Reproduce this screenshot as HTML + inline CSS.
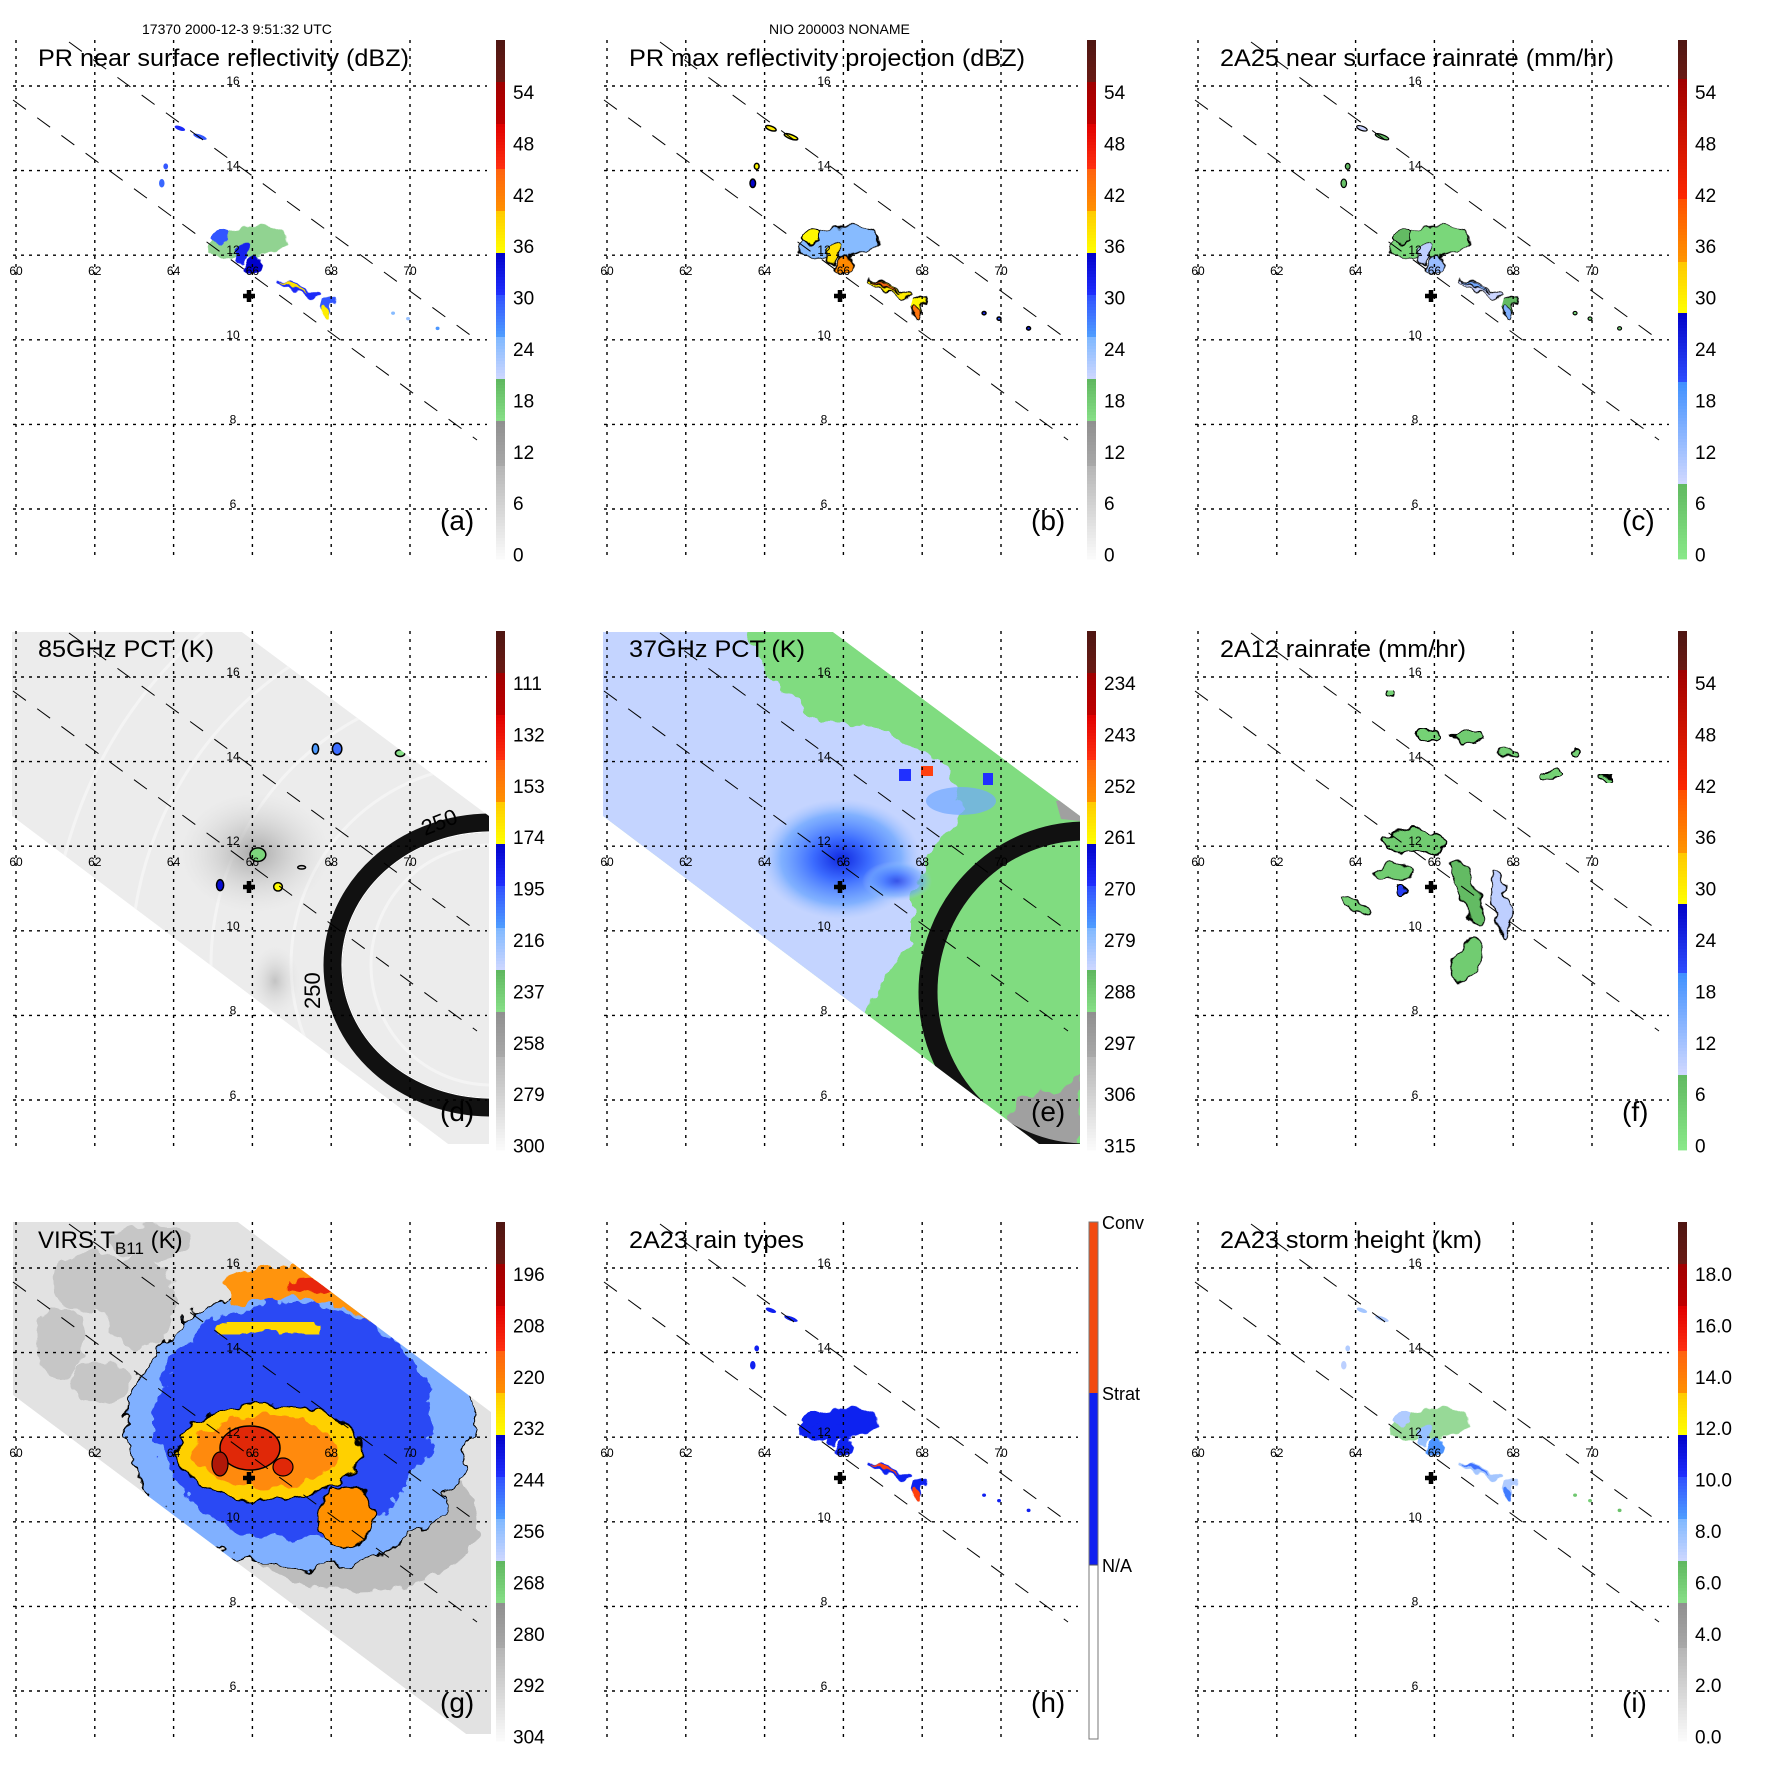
<!DOCTYPE html>
<html><head><meta charset="utf-8"><title>TRMM overpass panels</title>
<style>
html,body{margin:0;padding:0;background:#fff;}
svg{display:block;font-family:"Liberation Sans",Arial,sans-serif;}
</style></head>
<body>
<svg id="fig" width="1771" height="1771" viewBox="0 0 1771 1771" xmlns="http://www.w3.org/2000/svg">
<defs>
<filter id="rag" x="-30%" y="-30%" width="160%" height="160%">
<feTurbulence type="fractalNoise" baseFrequency="0.07" numOctaves="2" seed="4" result="n"/>
<feDisplacementMap in="SourceGraphic" in2="n" scale="16" xChannelSelector="R" yChannelSelector="G"/>
</filter>
<filter id="rag2" x="-30%" y="-30%" width="160%" height="160%">
<feTurbulence type="fractalNoise" baseFrequency="0.05" numOctaves="3" seed="9" result="n"/>
<feDisplacementMap in="SourceGraphic" in2="n" scale="26" xChannelSelector="R" yChannelSelector="G"/>
</filter>
<radialGradient id="dsmudge"><stop offset="0" stop-color="#a0a0a0" stop-opacity="0.9"/><stop offset="1" stop-color="#d8d8d8" stop-opacity="0"/></radialGradient>
<radialGradient id="espot"><stop offset="0" stop-color="#1028e0"/><stop offset="0.35" stop-color="#3c6cff"/><stop offset="0.75" stop-color="#70a8ff" stop-opacity="0.8"/><stop offset="1" stop-color="#a0c0ff" stop-opacity="0"/></radialGradient>
</defs>
<text x="142" y="34" font-size="14">17370 2000-12-3 9:51:32 UTC</text>
<text x="769" y="34" font-size="14">NIO 200003 NONAME</text>
<g id="panels"></g>
</svg>
<script>
// ---- axis / label data ----
const lonTicks=[60,62,64,66,68,70];
const latTicks=[16,14,12,10,8,6];
const cbA=['54','48','42','36','30','24','18','12','6','0'];
const cbD=['111','132','153','174','195','216','237','258','279','300'];
const cbE=['234','243','252','261','270','279','288','297','306','315'];
const cbG=['196','208','220','232','244','256','268','280','292','304'];
const cbI=['18.0','16.0','14.0','12.0','10.0','8.0','6.0','4.0','2.0','0.0'];
const cbH=['Conv','Strat','N/A'];
// PR rain features: lon, lat, rx(deg), ry(deg), rotation, value(dBZ)
const prLon=[65.86,65.2,65.76,66.0,67.15,67.1,67.9,67.85,64.16,64.67,63.7,63.8,69.57,69.95,70.7];
const prLat=[12.3,12.45,12.05,11.75,11.2,11.25,10.75,10.6,15.0,14.8,13.7,14.1,10.63,10.5,10.27];
const prRx=[1.0,0.25,0.2,0.18,0.6,0.35,0.12,0.1,0.14,0.18,0.07,0.06,0.05,0.05,0.05];
const prRy=[0.35,0.15,0.3,0.25,0.09,0.04,0.35,0.2,0.05,0.05,0.1,0.07,0.04,0.04,0.04];
const prRot=[-8,0,35,35,22,22,15,15,20,20,0,0,0,0,0];
const prVal=[19,30,32,35,31,38,30,37,31,30,29,30,25,24,26];
// 2A12 features
const tmLon=[64.86,65.86,66.86,67.86,69.0,69.57,70.37,65.5,65.0,64.0,66.85,67.7,66.85,65.2];
const tmLat=[15.55,14.6,14.6,14.2,13.7,14.2,13.6,12.1,11.4,10.6,10.9,10.6,9.3,10.95];
const tmRx=[0.12,0.3,0.4,0.25,0.3,0.1,0.2,0.75,0.5,0.4,0.22,0.22,0.3,0.12];
const tmRy=[0.08,0.12,0.14,0.1,0.1,0.12,0.06,0.3,0.2,0.12,0.8,0.8,0.55,0.15];
const tmRot=[0,0,0,20,0,0,0,0,-10,30,-20,-10,30,0];
const tmVal=[4,4,5,4,4,4,4,5,5,4,8,10,5,22];
// 85 GHz scattering features
const pLon=[66.14,65.18,66.65,68.15,67.6,69.75,67.25];
const pLat=[11.8,11.08,11.04,14.3,14.3,14.2,11.5];
const pRx=[0.2,0.09,0.11,0.12,0.08,0.12,0.1];
const pRy=[0.16,0.13,0.1,0.14,0.12,0.08,0.04];
const pVal=[240,180,175,200,210,245,280];

const SW=517;
const bandsA=[[0,43,'#4e1612','#6a1a14'],[43,85,'#a00000','#c00000'],[85,128,'#e00000','#ff3010'],[128,170,'#ff6010','#ff9000'],[170,212,'#ffc800','#ffff00'],[212,255,'#0000c8','#2030ff'],[255,298,'#3050ff','#50a0ff'],[298,340,'#80b8ff','#d0d8ff'],[340,382,'#60b860','#88e088'],[382,425,'#909090','#a8a8a8'],[425,517,'#b4b4b4','#fafafa']];
const bandsC=[[0,40,'#4e1612','#6a1a14'],[40,160,'#a00000','#ff2800'],[160,223,'#ff5000','#ff9800'],[223,272,'#ffc800','#ffff00'],[272,343,'#0000c8','#3050ff'],[343,443,'#4090ff','#d0d8ff'],[443,517,'#60b860','#88e888']];
function hx(c){return [parseInt(c.substr(1,2),16),parseInt(c.substr(3,2),16),parseInt(c.substr(5,2),16)];}
function colorAt(bands,pos){pos=Math.max(0,Math.min(516.9,pos));for(const b of bands){if(pos>=b[0]&&pos<b[1]){const t=(pos-b[0])/(b[1]-b[0]);const a=hx(b[2]),c=hx(b[3]);return 'rgb('+a.map((v,i)=>Math.round(v+(c[i]-v)*t)).join(',')+')';}}return '#fff';}
function valColor(bands,top,bottom,v){return colorAt(bands,SW*(v-top)/(bottom-top));}

const X=lon=>16+(lon-60)*39.4;
const Y=lat=>86+(16-lat)*42.3;
const NS='http://www.w3.org/2000/svg';
function el(tag,attrs,parent){const e=document.createElementNS(NS,tag);for(const k in attrs)e.setAttribute(k,attrs[k]);if(parent)parent.appendChild(e);return e;}

const swathMW='12,41 242,41 489,225 489,553 448,553 12,225';
const swathVIRS='13,40 238,40 491,230 491,552 466,552 13,213';

const panels=[
 {id:'a',col:0,row:0,title:'PR near surface reflectivity (dBZ)',tl:371,cb:cbA,bands:bandsA},
 {id:'b',col:1,row:0,title:'PR max reflectivity projection (dBZ)',tl:396,cb:cbA,bands:bandsA},
 {id:'c',col:2,row:0,title:'2A25 near surface rainrate (mm/hr)',tl:394,cb:cbA,bands:bandsC},
 {id:'d',col:0,row:1,title:'85GHz PCT (K)',tl:176,cb:cbD,bands:bandsA},
 {id:'e',col:1,row:1,title:'37GHz PCT (K)',tl:176,cb:cbE,bands:bandsA},
 {id:'f',col:2,row:1,title:'2A12 rainrate (mm/hr)',tl:246,cb:cbA,bands:bandsC},
 {id:'g',col:0,row:2,title:'VIRS',tl:0,cb:cbG,bands:bandsA},
 {id:'h',col:1,row:2,title:'2A23 rain types',tl:175,cb:null,bands:null},
 {id:'i',col:2,row:2,title:'2A23 storm height (km)',tl:262,cb:cbI,bands:bandsA}
];

const root=document.getElementById('panels');
panels.forEach(p=>{
 const g=el('g',{transform:'translate('+(p.col*591)+','+(p.row*591)+')'},root);
 
 
 const clip=el('clipPath',{id:'clip-'+p.id},g);
 if(p.id==='g') el('polygon',{points:swathVIRS},clip); else if(p.id==='d'||p.id==='e') el('polygon',{points:swathMW},clip); else el('rect',{x:13,y:40,width:476,height:517},clip);
 const data=el('g',{'clip-path':'url(#clip-'+p.id+')'},g);
 
 

 if(p.id==='d'){
  const sw=el('polygon',{points:swathMW,fill:'#ececec'},data);
  
  
  [120,200,280,360,440].forEach(r=>el('circle',{cx:491,cy:374,r:r,fill:'none',stroke:'#f4f4f4','stroke-width':3},data));
  el('ellipse',{cx:255,cy:262,rx:75,ry:60,fill:'url(#dsmudge)'},data);
  el('ellipse',{cx:275,cy:390,rx:25,ry:35,fill:'url(#dsmudge)',opacity:0.6},data);
  el('ellipse',{cx:491,cy:374,rx:158,ry:142,fill:'none',stroke:'#111','stroke-width':19},data);
  el('ellipse',{cx:491,cy:374,rx:149,ry:133,fill:'none',stroke:'#fff','stroke-width':1.2},data);
  pLon.forEach((lon,i)=>{
   const e=el('ellipse',{cx:X(lon),cy:Y(pLat[i]),rx:pRx[i]*39.4,ry:pRy[i]*42.3,fill:valColor(bandsA,90,300,pVal[i]),stroke:'#000','stroke-width':1.5},data);
   
   
  });
  const t1=el('text',{x:0,y:0,'font-size':22,transform:'translate(320,418) rotate(-90)'},g);
  t1.textContent='250';
  
  
  const t2=el('text',{x:0,y:0,'font-size':22,transform:'translate(425,245) rotate(-22)'},g);
  t2.textContent='250';
  
  
 }
 if(p.id==='e'){
  const sw=el('polygon',{points:swathMW,fill:'#80dc80'},data);
  
  
  const lb=el('polygon',{points:'0,30 149,30 179,85 224,129 291,137 358,177 373,217 336,265 321,309 321,353 291,389 276,430 0,260',fill:'#c4d4ff',filter:'url(#rag)'},data);
  
  
  el('ellipse',{cx:250,cy:268,rx:80,ry:60,fill:'url(#espot)'},data);
  el('ellipse',{cx:306,cy:290,rx:35,ry:20,fill:'url(#espot)',opacity:0.7},data);
  el('ellipse',{cx:370,cy:210,rx:35,ry:14,fill:'#70a8ff',opacity:0.7},data);
  el('rect',{x:308,y:178,width:12,height:12,fill:'#2030ff'},data);
  el('rect',{x:330,y:175,width:12,height:10,fill:'#ff4010'},data);
  el('rect',{x:392,y:182,width:10,height:12,fill:'#2030ff'},data);
  el('polygon',{points:'400,553 430,505 470,500 489,480 489,553',fill:'#a0a0a0',filter:'url(#rag)'},data);
  el('polygon',{points:'465,210 489,205 489,230 470,228',fill:'#a0a0a0'},data);
  el('ellipse',{cx:494,cy:401,rx:157,ry:161,fill:'none',stroke:'#111','stroke-width':19},data);
 }
 if(p.id==='g'){
  const sw=el('polygon',{points:swathVIRS,fill:'#e2e2e2'},data);
  
  
  [[90,100,40,30],[140,120,35,45],[60,160,25,35],[100,200,30,20],[150,60,40,18]].forEach(c=>el('ellipse',{cx:c[0],cy:c[1],rx:c[2],ry:c[3],fill:'#c6c6c6',filter:'url(#rag)'},data));
  el('ellipse',{cx:360,cy:340,rx:120,ry:70,fill:'#bcbcbc',filter:'url(#rag)'},data);
  const outer=el('ellipse',{cx:300,cy:245,rx:172,ry:142,fill:'#80b0ff',stroke:'#000','stroke-width':1.5,filter:'url(#rag2)'},data);
  
  
  el('ellipse',{cx:292,cy:238,rx:138,ry:118,fill:'#2a48f4',filter:'url(#rag2)'},data);
  el('path',{d:'M230,110 Q340,70 470,190',fill:'none',stroke:'#ff9410','stroke-width':32,filter:'url(#rag)'},data);
  el('path',{d:'M290,105 Q360,95 420,130',fill:'none',stroke:'#e82808','stroke-width':12,filter:'url(#rag)'},data);
  el('path',{d:'M220,150 Q280,135 320,150',fill:'none',stroke:'#ffd800','stroke-width':14,filter:'url(#rag)'},data);
  el('ellipse',{cx:345,cy:335,rx:28,ry:30,fill:'#ff9000',stroke:'#000','stroke-width':1.5,filter:'url(#rag)'},data);
  const core=el('ellipse',{cx:268,cy:270,rx:92,ry:48,fill:'#ffd000',stroke:'#000','stroke-width':1.5,filter:'url(#rag)'},data);
  
  
  el('ellipse',{cx:265,cy:270,rx:72,ry:36,fill:'#ff8a10',filter:'url(#rag)'},data);
  el('ellipse',{cx:250,cy:266,rx:30,ry:22,fill:'#e02808',stroke:'#000','stroke-width':1.5},data);
  el('ellipse',{cx:220,cy:282,rx:8,ry:12,fill:'#b01808',stroke:'#000','stroke-width':1.2},data);
  el('ellipse',{cx:283,cy:285,rx:10,ry:9,fill:'#e02808',stroke:'#000','stroke-width':1.2},data);
 }
 if(['a','b','c','h','i'].includes(p.id)){
  prLon.forEach((lon,i)=>{
   let v=prVal[i],fill,stroke='none',sw=0;
   if(p.id==='a'){fill=valColor(bandsA,60,0,v);}
   else if(p.id==='b'){fill=valColor(bandsA,60,0,v+6);stroke='#000';sw=1.5;}
   else if(p.id==='c'){fill=valColor(bandsC,60,0,v<25?3:v-22);stroke='#000';sw=1.2;}
   else if(p.id==='h'){fill=v>=36?'#ff4010':'#1020f0';}
   else {fill=valColor(bandsA,20,0,v<25?6:v/4);}
   const e=el('ellipse',{cx:X(lon),cy:Y(prLat[i]),rx:prRx[i]*39.4,ry:prRy[i]*42.3,transform:'rotate('+prRot[i]+' '+X(lon)+' '+Y(prLat[i])+')',fill:fill,stroke:stroke,'stroke-width':sw,filter:i<8?'url(#rag)':'none',opacity:(p.id==='a'&&i===0)||(p.id==='i'&&i===0)?0.75:1});
   data.appendChild(e);
   
   
  });
 }
 if(p.id==='f'){
  tmLon.forEach((lon,i)=>{
   const e=el('ellipse',{cx:X(lon),cy:Y(tmLat[i]),rx:tmRx[i]*39.4,ry:tmRy[i]*42.3,transform:'rotate('+tmRot[i]+' '+X(lon)+' '+Y(tmLat[i])+')',fill:valColor(bandsC,60,0,tmVal[i]),stroke:'#000','stroke-width':1.5,filter:'url(#rag)'},data);
   
   
  });
 }

 // grid
 lonTicks.forEach(lon=>{
  const l=el('line',{x1:X(lon),y1:40,x2:X(lon),y2:557,stroke:'#000','stroke-width':1.4,'stroke-dasharray':'3,5'},g);
  
  
  const t=el('text',{x:X(lon),y:275,'font-size':12,'text-anchor':'middle'},g);
  t.textContent=lon;
  
  
 });
 latTicks.forEach(lat=>{
  const l=el('line',{x1:13,y1:Y(lat),x2:487,y2:Y(lat),stroke:'#000','stroke-width':1.4,'stroke-dasharray':'3,5'},g);
  
  
  const t=el('text',{x:233,y:Y(lat)-1,'font-size':12,'text-anchor':'middle'},g);
  t.textContent=lat;
  
  
 });
 // swath edges
 [[69,42,477,340],[13,100,477,440]].forEach(s=>{
  const l=el('line',{x1:s[0],y1:s[1],x2:s[2],y2:s[3],stroke:'#000','stroke-width':1,'stroke-dasharray':'16,14'},g);
  
  
 });
 // storm center cross
 const cr=el('path',{d:'M243,296h12M249,290v12',stroke:'#000','stroke-width':4.5},g);
 
 
 // title
 if(p.id==='g'){
  const t=el('text',{x:38,y:66,'font-size':24},g);
  t.innerHTML='VIRS T<tspan font-size="17" dy="6">B11</tspan><tspan dy="-6"> (K)</tspan>';
  
  
 } else {
  const t=el('text',{x:38,y:66,'font-size':24,textLength:p.tl,lengthAdjust:'spacingAndGlyphs'},g);
  t.textContent=p.title;
  
  
 }
 const pl=el('text',{x:440,y:530,'font-size':28},g);
 pl.textContent='('+p.id+')';
 
 
 // colorbar
 const cb=el('g',{},g);
 
 
 if(p.cb){
  for(let y=0;y<SW;y+=3){el('rect',{x:496,y:40+y,width:9,height:3.4,fill:colorAt(p.bands,y+1.5)},cb);}
  p.cb.forEach((lab,i)=>{
   const t=el('text',{x:513,y:99+i*51.4,'font-size':19},cb);
   t.textContent=lab;
   
   
  });
 } else {
  el('rect',{x:498,y:40,width:9,height:171,fill:'#f24a10'},cb);
  el('rect',{x:498,y:211,width:9,height:172,fill:'#1020f0'},cb);
  el('rect',{x:498,y:383,width:9,height:174,fill:'#fff',stroke:'#555','stroke-width':1},cb);
  el('rect',{x:498,y:40,width:9,height:517,fill:'none',stroke:'#777','stroke-width':1},cb);
  [47,218,390].forEach((y,i)=>{
   const t=el('text',{x:511,y:y,'font-size':18},cb);
   t.textContent=cbH[i];
   
   
  });
 }
});
</script>
</body></html>
